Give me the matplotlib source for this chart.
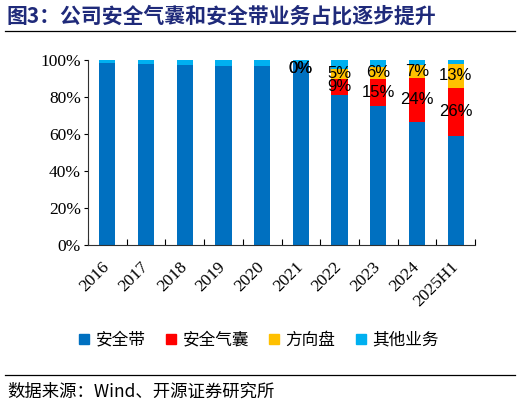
import numpy as np
import matplotlib
matplotlib.use('Agg')
import matplotlib.pyplot as plt
from matplotlib.lines import Line2D

plt.rcParams['font.family'] = ['Noto Sans CJK SC', 'DejaVu Sans']

years = ['2016', '2017', '2018', '2019', '2020', '2021', '2022', '2023', '2024', '2025H1']
# shares in %
belt = [98.5, 98.0, 97.5, 97.0, 97.0, 98.5, 81.0, 75.0, 66.5, 59.0]
airbag = [0, 0, 0, 0, 0, 0, 9, 15, 24, 26]
wheel = [0, 0, 0, 0, 0, 0, 5, 6, 7, 13]
other = [1.5, 2.0, 2.5, 3.0, 3.0, 1.5, 5.0, 4.0, 2.5, 2.0]
# labels are drawn only for these two series
airbag_lbl = [None] * 5 + [0, 9, 15, 24, 26]
wheel_lbl = [None] * 5 + [0, 5, 6, 7, 13]

names = ['安全带', '安全气囊', '方向盘', '其他业务']
colors = ['#0070C0', '#FF0000', '#FFC000', '#00B0F0']

fig = plt.figure(figsize=(5.22, 4.05), dpi=100)
ax = fig.add_axes([88 / 522, 1 - 245 / 405, (475 - 88) / 522, (245 - 60) / 405])

x = np.arange(len(years))
w = 0.42
bottom = np.zeros(len(years))
bars = []
for vals, c in zip([belt, airbag, wheel, other], colors):
    ax.bar(x, vals, w, bottom=bottom, color=c, edgecolor='none')
    bars.append((np.array(vals, float), bottom.copy()))
    bottom = bottom + np.array(vals, float)

for (vals, bot), lbls in zip(bars[1:3], [airbag_lbl, wheel_lbl]):
    for i, l in enumerate(lbls):
        if l is None:
            continue
        yc = bot[i] + vals[i] / 2
        if vals[i] == 0:
            yc -= 3  # zero segments: label sits just under the bar top
        ax.text(x[i], yc, f'{l}%', ha='center', va='center',
                fontsize=12, family='Liberation Sans', color='black')

ax.set_xlim(-0.5, len(years) - 0.5)
ax.set_ylim(0, 100)
ax.set_yticks(np.arange(0, 101, 20))
ax.set_yticklabels([f'{v}%' for v in range(0, 101, 20)], family='Liberation Serif', fontsize=12.5)
ax.tick_params(axis='y', direction='out', length=3, width=0.8, pad=2)

ax.set_xticks(x)
ax.set_xticklabels(years, rotation=45, ha='right', va='center', rotation_mode='anchor',
                   family='Liberation Serif', fontsize=12.5)
ax.tick_params(axis='x', which='major', length=0, pad=14)
ax.set_xticks(np.arange(-0.5, len(years)), minor=True)
ax.tick_params(axis='x', which='minor', direction='in', length=4, width=0.8)

for s in ['top', 'right']:
    ax.spines[s].set_visible(False)
for s in ['left', 'bottom']:
    ax.spines[s].set_color('#303030')
    ax.spines[s].set_linewidth(0.8)

handles = [Line2D([], [], marker='s', ls='none', markersize=6.5, color=c) for c in colors]
fig.legend(handles, names, loc='center', bbox_to_anchor=(259 / 522, 1 - 340 / 405), ncol=4,
           frameon=False, fontsize=12, handlelength=0.6, handletextpad=0.4,
           columnspacing=1.2, borderpad=0, borderaxespad=0)

# title and footer
fig.text(7 / 522, 1 - 16 / 405, '图3：公司安全气囊和安全带业务占比逐步提升', fontsize=15,
         fontweight='bold', color='#1F2A7A', va='center', ha='left')
fig.add_artist(Line2D([5 / 522, 515 / 522], [1 - 31 / 405] * 2, color='black', lw=0.9))
fig.add_artist(Line2D([5 / 522, 515 / 522], [1 - 375 / 405] * 2, color='black', lw=0.9))
fig.text(7 / 522, 1 - 392 / 405, '数据来源：Wind、开源证券研究所', fontsize=12.5,
         color='black', va='center', ha='left')

fig.savefig('out.png', dpi=100)
